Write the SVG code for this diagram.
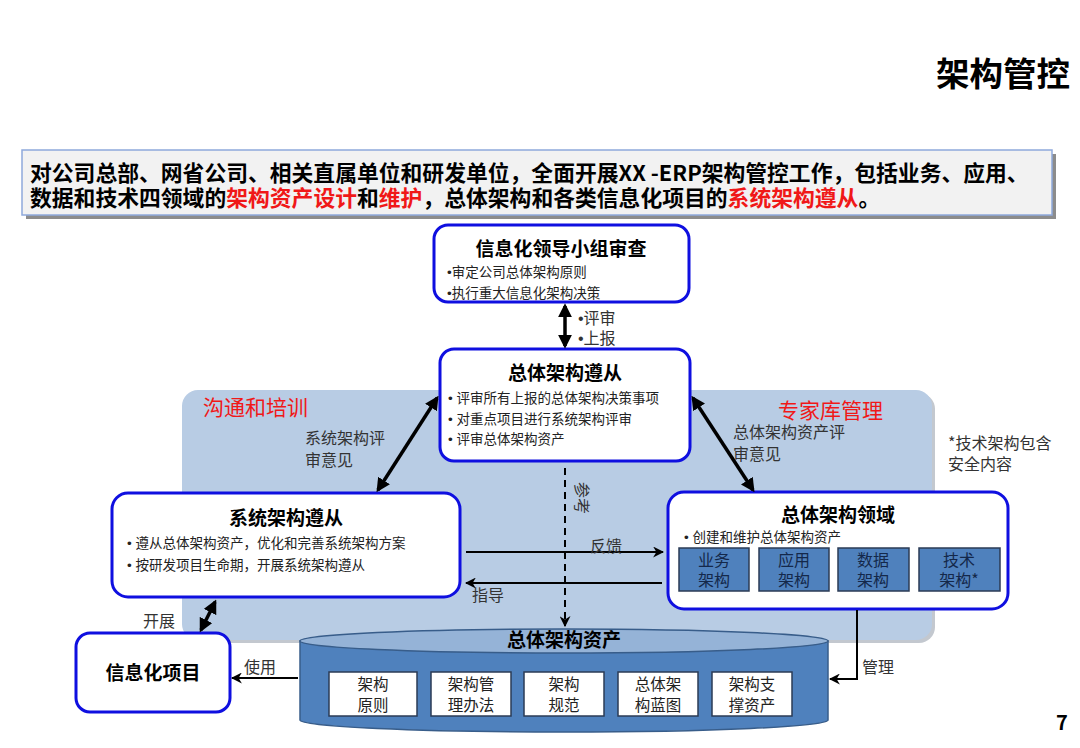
<svg xmlns="http://www.w3.org/2000/svg" width="1080" height="748" viewBox="0 0 1080 748">
<style>
text{font-family:"Noto Sans CJK SC","Liberation Sans",sans-serif;fill:#000}
.b{font-family:"Liberation Sans","Noto Sans CJK SC",sans-serif}
.node{fill:#fff;stroke:#0f0fe0;stroke-width:3}
.ttl{font-size:19px;font-weight:700;text-anchor:middle}
.bul{font-size:13.5px;fill:#222}
.lbl{font-size:16px;fill:#333}
.red{font-size:21px;fill:#f01818}
.sub{fill:#4f81bd;stroke:#2b3b55;stroke-width:1.5}
.subt{font-size:16px;text-anchor:middle;fill:#14284a}
.asset{fill:#fff;stroke:#2b3b55;stroke-width:1.5}
.assett{font-size:15.5px;text-anchor:middle;fill:#222}
.dbl{stroke:#000;stroke-width:3.5;fill:none;marker-start:url(#ah);marker-end:url(#ah)}
.one{stroke:#000;stroke-width:2;fill:none;marker-end:url(#as)}
.banner{font-size:21.8px;font-weight:700}
.hl{fill:#f01818}
</style>
<defs>
<marker id="ah" viewBox="0 0 10 10" refX="8" refY="5" markerWidth="14" markerHeight="14" markerUnits="userSpaceOnUse" orient="auto-start-reverse"><path d="M0,0 L10,5 L0,10 z" fill="#000"/></marker>
<marker id="as" viewBox="0 0 10 10" refX="9" refY="5" markerWidth="11" markerHeight="11" markerUnits="userSpaceOnUse" orient="auto"><path d="M0,0 L10,5 L0,10 L3,5 z" fill="#000"/></marker>
</defs>
<rect width="1080" height="748" fill="#fff"/>

<text x="1070" y="86" font-size="33.5" font-weight="700" text-anchor="end">架构管控</text>

<g id="banner">
<rect x="26" y="154" width="1030" height="65" fill="#8c8c8c"/>
<rect x="22" y="150" width="1030" height="65" fill="#f2f2f2" stroke="#8ea9db" stroke-width="1.5"/>
<text class="banner"><tspan x="30" y="181">对公司总部、网省公司、相关直属单位和研发单位，全面开展XX -ERP架构管控工作，包括业务、应用、</tspan><tspan x="30" y="206">数据和技术四领域的</tspan><tspan class="hl">架构资产设计</tspan><tspan>和</tspan><tspan class="hl">维护</tspan><tspan>，总体架构和各类信息化项目的</tspan><tspan class="hl">系统架构遵从</tspan><tspan>。</tspan></text>
</g>

<g id="panel">
<rect x="185" y="393" width="750" height="250" rx="16" fill="#a9b1ba" opacity="0.7"/>
<rect x="182" y="390" width="750" height="250" rx="16" fill="#b8cce4"/>
<text class="red" x="203" y="415">沟通和培训</text>
<text class="red" x="778" y="418">专家库管理</text>
</g>

<g id="n-leader">
<rect class="node" x="434" y="225" width="255" height="77" rx="14"/>
<text class="ttl" x="561" y="256">信息化领导小组审查</text>
<text class="bul"><tspan x="447" y="277"><tspan class="b">•</tspan>审定公司总体架构原则</tspan><tspan x="447" y="298"><tspan class="b">•</tspan>执行重大信息化架构决策</tspan></text>
</g>

<g id="n-overall">
<rect class="node" x="440" y="349" width="250" height="112" rx="14"/>
<text class="ttl" x="565" y="380">总体架构遵从</text>
<text class="bul"><tspan x="448" y="403"><tspan class="b">• </tspan>评审所有上报的总体架构决策事项</tspan><tspan x="448" y="424"><tspan class="b">• </tspan>对重点项目进行系统架构评审</tspan><tspan x="448" y="444"><tspan class="b">• </tspan>评审总体架构资产</tspan></text>
</g>

<g id="n-system">
<rect class="node" x="112" y="493" width="348" height="104" rx="16"/>
<text class="ttl" x="286" y="525">系统架构遵从</text>
<text class="bul"><tspan x="127" y="548"><tspan class="b">• </tspan>遵从总体架构资产，优化和完善系统架构方案</tspan><tspan x="127" y="570"><tspan class="b">• </tspan>按研发项目生命期，开展系统架构遵从</tspan></text>
</g>

<g id="n-domain">
<rect class="node" x="668" y="492" width="340" height="117" rx="16"/>
<text class="ttl" x="838" y="522">总体架构领域</text>
<text class="bul" x="684" y="542"><tspan class="b">• </tspan>创建和维护总体架构资产</text>
<rect class="sub" x="679" y="548" width="70" height="43"/>
<rect class="sub" x="759" y="548" width="70" height="43"/>
<rect class="sub" x="838" y="548" width="71" height="43"/>
<rect class="sub" x="919" y="548" width="81" height="43"/>
<text class="subt"><tspan x="714" y="566">业务</tspan><tspan x="714" y="586">架构</tspan></text>
<text class="subt"><tspan x="794" y="566">应用</tspan><tspan x="794" y="586">架构</tspan></text>
<text class="subt"><tspan x="873" y="566">数据</tspan><tspan x="873" y="586">架构</tspan></text>
<text class="subt"><tspan x="959" y="566">技术</tspan><tspan x="959" y="586">架构*</tspan></text>
</g>

<g id="n-assets">
<path d="M300,641 L300,720 A264,12 0 0 0 828,720 L828,641 Z" fill="#4f81bd" stroke="#385d8a" stroke-width="1.5"/>
<ellipse cx="564" cy="641" rx="264" ry="12" fill="#95b3d7" stroke="#385d8a" stroke-width="1.5"/>
<text class="ttl" x="564" y="647">总体架构资产</text>
<rect class="asset" x="329" y="672" width="88" height="44"/>
<rect class="asset" x="431" y="672" width="80" height="44"/>
<rect class="asset" x="524" y="672" width="80" height="44"/>
<rect class="asset" x="618" y="672" width="80" height="44"/>
<rect class="asset" x="712" y="672" width="80" height="44"/>
<text class="assett"><tspan x="373" y="690">架构</tspan><tspan x="373" y="711">原则</tspan></text>
<text class="assett"><tspan x="471" y="690">架构管</tspan><tspan x="471" y="711">理办法</tspan></text>
<text class="assett"><tspan x="564" y="690">架构</tspan><tspan x="564" y="711">规范</tspan></text>
<text class="assett"><tspan x="658" y="690">总体架</tspan><tspan x="658" y="711">构蓝图</tspan></text>
<text class="assett"><tspan x="752" y="690">架构支</tspan><tspan x="752" y="711">撑资产</tspan></text>
</g>

<g id="n-project">
<rect class="node" x="76" y="633" width="154" height="79" rx="14"/>
<text class="ttl" x="153" y="680">信息化项目</text>
</g>

<g id="connectors">
<line class="dbl" x1="565" y1="306" x2="565" y2="346"/>
<line class="dbl" x1="378" y1="490" x2="437" y2="398"/>
<line class="dbl" x1="693" y1="398" x2="753" y2="490"/>
<line class="dbl" x1="201" y1="630" x2="215" y2="602"/>
<line class="one" x1="466" y1="552" x2="663" y2="552"/>
<line class="one" x1="662" y1="583" x2="466" y2="583"/>
<line class="one" x1="565" y1="468" x2="565" y2="626" stroke-dasharray="7,5"/>
<line class="one" x1="298" y1="678" x2="232" y2="678"/>
<polyline class="one" points="857,610 857,679 830,679"/>
</g>

<g id="labels">
<text class="lbl"><tspan x="578" y="324"><tspan class="b">•</tspan>评审</tspan><tspan x="578" y="344"><tspan class="b">•</tspan>上报</tspan></text>
<text class="lbl"><tspan x="305" y="444">系统架构评</tspan><tspan x="305" y="466">审意见</tspan></text>
<text class="lbl"><tspan x="733" y="438">总体架构资产评</tspan><tspan x="733" y="460">审意见</tspan></text>
<text class="lbl"><tspan x="948" y="449">*技术架构包含</tspan><tspan x="948" y="470">安全内容</tspan></text>
<text class="lbl" x="590" y="552">反馈</text>
<text class="lbl" x="472" y="601">指导</text>
<text class="lbl" font-size="15" transform="translate(576,482) rotate(90)">参考</text>
<text class="lbl" x="143" y="627">开展</text>
<text class="lbl" x="244" y="673">使用</text>
<text class="lbl" x="862" y="673">管理</text>
</g>

<text x="1062" y="730" font-size="20" font-weight="700" text-anchor="middle">7</text>
</svg>
